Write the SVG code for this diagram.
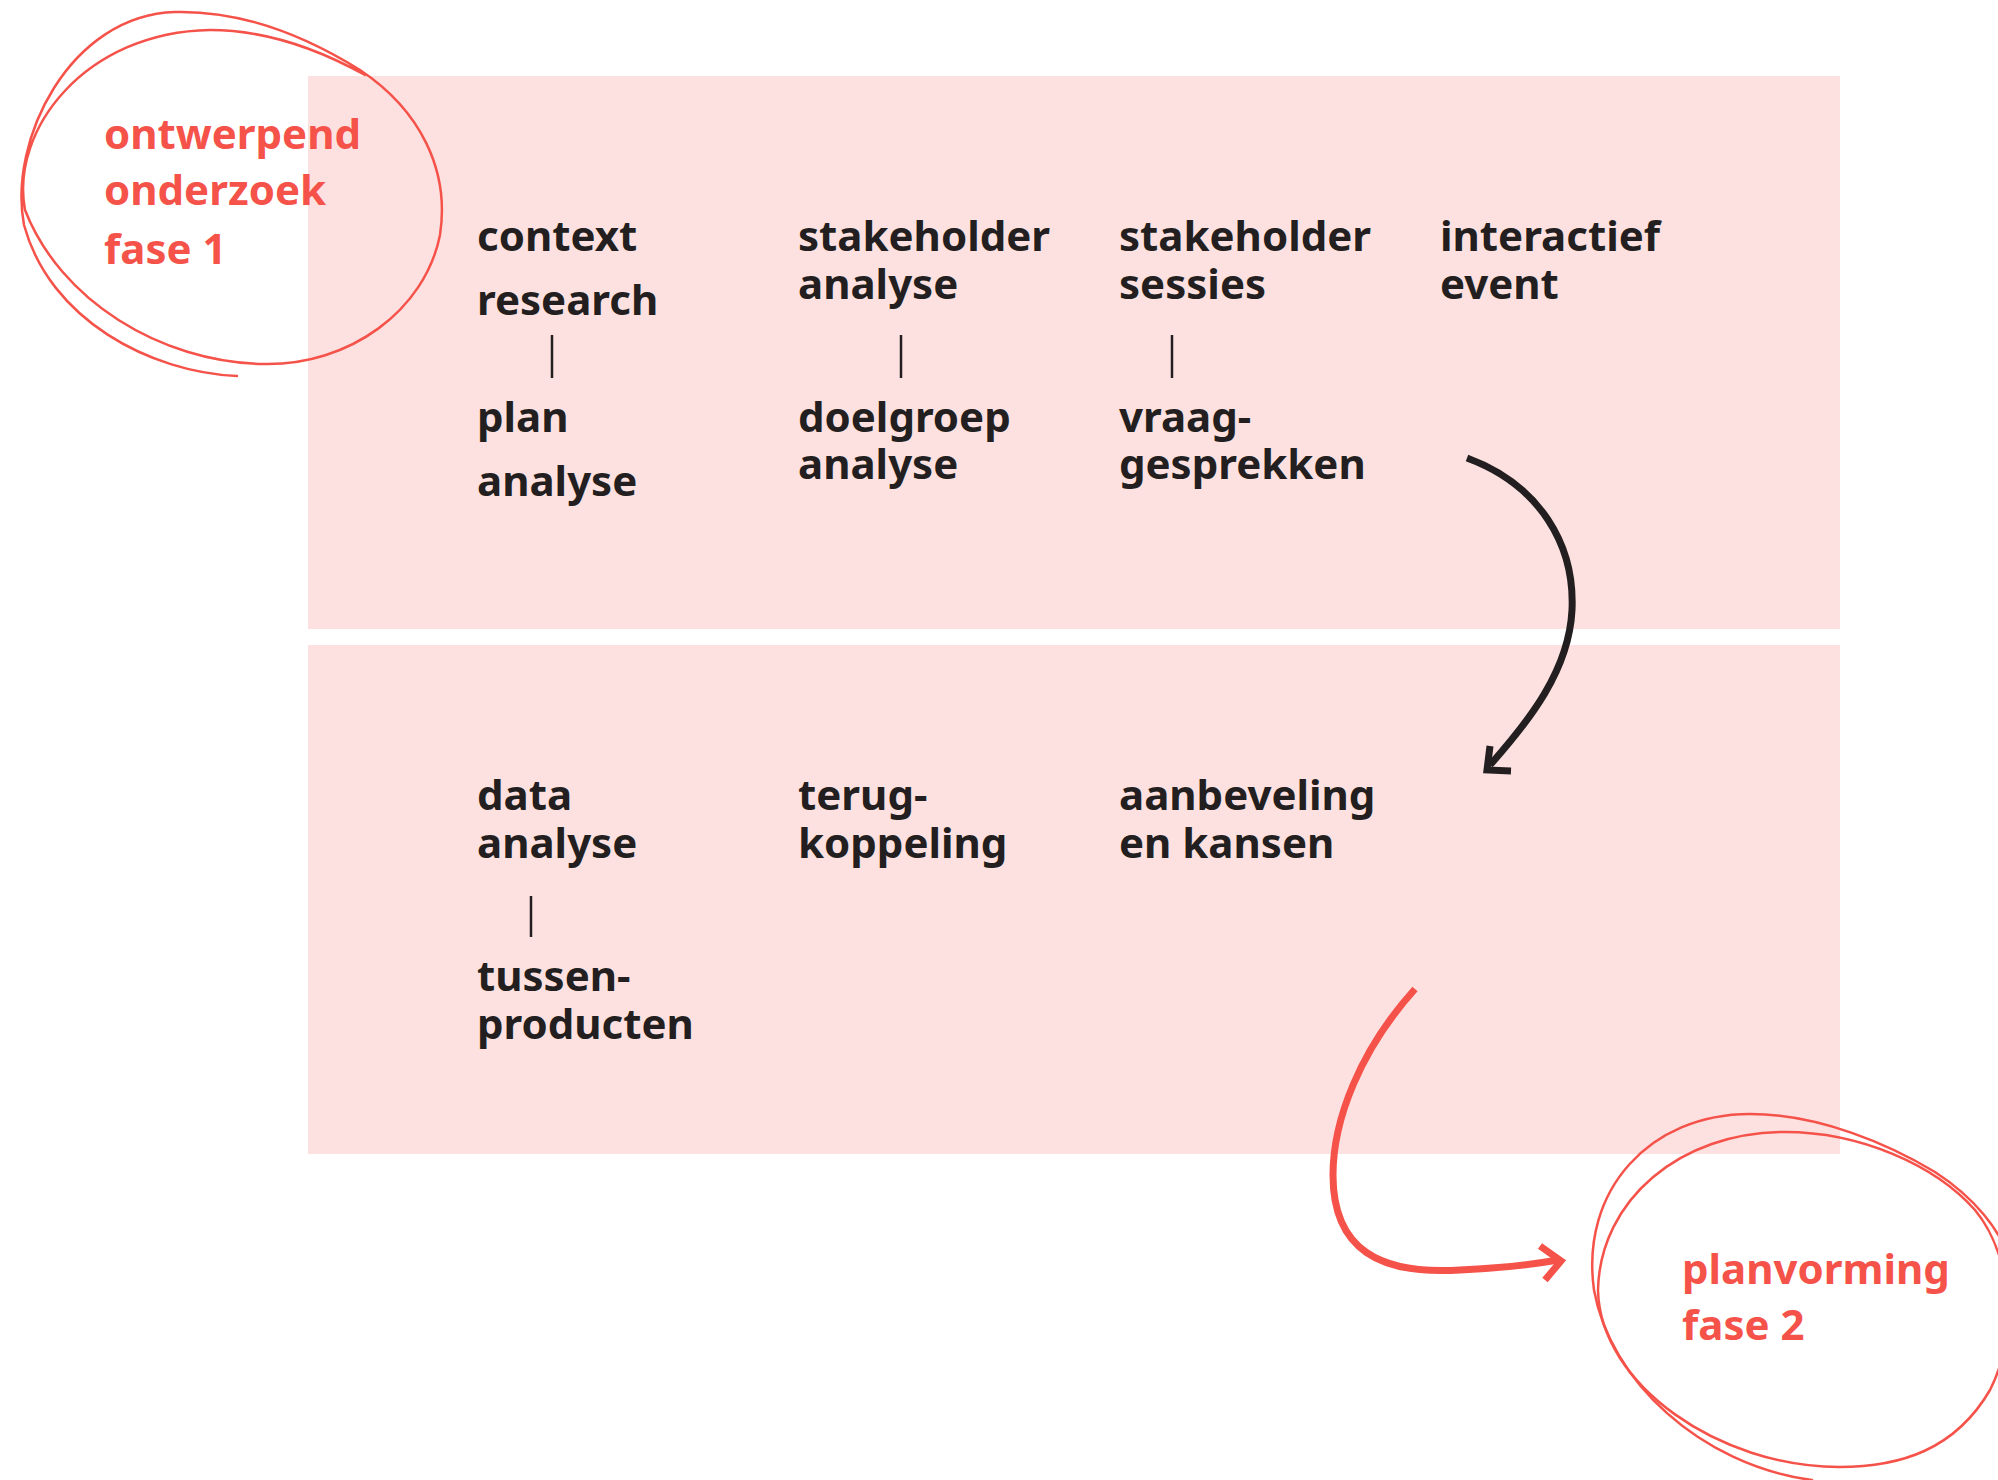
<svg xmlns="http://www.w3.org/2000/svg" width="1998" height="1480" viewBox="0 0 1998 1480">
<style>
.panel{fill:#fde1e1}
.t{font-family:"Noto Sans","Open Sans",sans-serif;font-weight:700;font-size:42px;fill:#231f20}
.r{font-family:"Noto Sans","Open Sans",sans-serif;font-weight:700;font-size:42px;fill:#f5524a}
.tick{stroke:#231f20;stroke-width:2.5}
.loop{fill:none;stroke:#f5524a;stroke-width:2.5;stroke-linecap:round}
</style>
<rect width="1998" height="1480" fill="#ffffff"/>
<g id="panels">
<rect class="panel" x="308" y="76" width="1532" height="553"/>
<rect class="panel" x="308" y="645" width="1532" height="509"/>
</g>
<g id="phase1">
<path class="loop" d="M 237 376 C 150 372, 50 320, 24 225 C 8 140, 70 15, 175 12 C 250 10, 315 42, 360 70 C 420 110, 450 170, 440 235 C 425 310, 350 366, 263 364 C 160 362, 60 300, 25 210 C 10 130, 85 32, 210 30 C 265 30, 320 50, 365 75"/>
<text class="r" x="104" y="149">ontwerpend</text>
<text class="r" x="104" y="205">onderzoek</text>
<text class="r" x="104" y="264">fase 1</text>
</g>
<g id="phase2">
<path class="loop" d="M 1812 1480 C 1700 1465, 1610 1380, 1594 1290 C 1580 1190, 1650 1114, 1750 1114 C 1820 1114, 1890 1145, 1935 1172 C 1975 1198, 2000 1230, 2010 1260"/>
<path class="loop" d="M 1598 1290 C 1600 1200, 1680 1132, 1785 1132 C 1860 1132, 1935 1165, 1975 1210 C 2012 1255, 2018 1335, 1990 1390 C 1955 1450, 1900 1467, 1839 1467 C 1720 1467, 1600 1385, 1598 1290"/>
<text class="r" x="1682" y="1284">planvorming</text>
<text class="r" x="1682" y="1340">fase 2</text>
</g>
<g id="col1">
<text class="t" x="477" y="251">context</text>
<text class="t" x="477" y="315">research</text>
<text class="t" x="477" y="432">plan</text>
<text class="t" x="477" y="496">analyse</text>
</g>
<g id="col2">
<text class="t" x="798" y="251">stakeholder</text>
<text class="t" x="798" y="299">analyse</text>
<text class="t" x="798" y="432">doelgroep</text>
<text class="t" x="798" y="479">analyse</text>
</g>
<g id="col3">
<text class="t" x="1119" y="251">stakeholder</text>
<text class="t" x="1119" y="299">sessies</text>
<text class="t" x="1119" y="432">vraag-</text>
<text class="t" x="1119" y="479">gesprekken</text>
</g>
<g id="col4">
<text class="t" x="1440" y="251">interactief</text>
<text class="t" x="1440" y="299">event</text>
</g>
<g id="bcol1">
<text class="t" x="477" y="810">data</text>
<text class="t" x="477" y="858">analyse</text>
<text class="t" x="477" y="991">tussen-</text>
<text class="t" x="477" y="1039">producten</text>
</g>
<g id="bcol2">
<text class="t" x="798" y="810">terug-</text>
<text class="t" x="798" y="858">koppeling</text>
</g>
<g id="bcol3">
<text class="t" x="1119" y="810">aanbeveling</text>
<text class="t" x="1119" y="858">en kansen</text>
</g>
<g id="connectors">
<line class="tick" x1="552" y1="335" x2="552" y2="378"/>
<line class="tick" x1="901" y1="335" x2="901" y2="378"/>
<line class="tick" x1="1172" y1="335" x2="1172" y2="378"/>
<line class="tick" x1="531" y1="896" x2="531" y2="937"/>
<path d="M 1467 458 C 1540 485, 1575 545, 1572 610 C 1569 670, 1530 720, 1490 765" fill="none" stroke="#231f20" stroke-width="7"/>
<polyline points="1490,746 1487,770 1511,771" fill="none" stroke="#231f20" stroke-width="7" stroke-linejoin="miter"/>
<path d="M 1415 989 C 1360 1050, 1333 1120, 1333 1175 C 1333 1250, 1380 1275, 1460 1270 C 1500 1268, 1530 1265, 1558 1260" fill="none" stroke="#f5524a" stroke-width="7"/>
<polyline points="1540,1246 1561,1261 1545,1280" fill="none" stroke="#f5524a" stroke-width="7" stroke-linejoin="miter"/>
</g>
</svg>
